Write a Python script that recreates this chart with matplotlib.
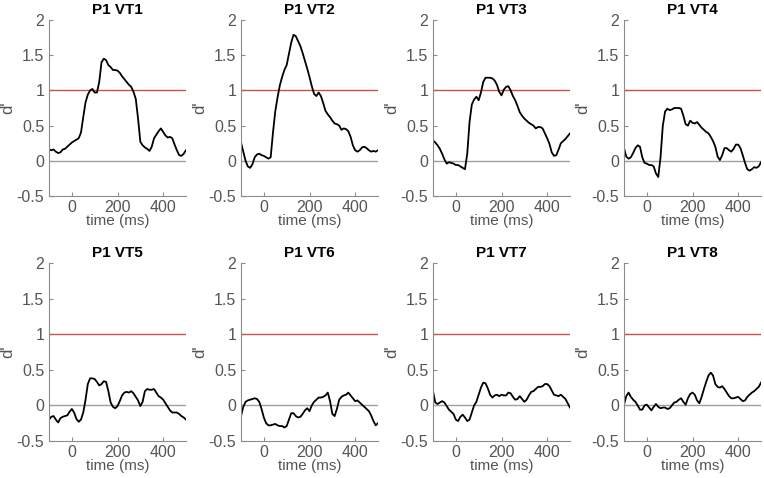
import numpy as np
import matplotlib
matplotlib.use('Agg')
import matplotlib.pyplot as plt

matplotlib.rcParams['font.family'] = ['Liberation Sans', 'DejaVu Sans']
matplotlib.rcParams['font.size'] = 10

# time axis (ms), one value every 10 ms
t = list(range(-100, 510, 10))

titles = ['P1 VT1', 'P1 VT2', 'P1 VT3', 'P1 VT4',
          'P1 VT5', 'P1 VT6', 'P1 VT7', 'P1 VT8']

vt1 = [0.16, 0.15, 0.16, 0.13, 0.11, 0.12, 0.16, 0.17, 0.20, 0.23,
       0.26, 0.28, 0.30, 0.32, 0.40, 0.62, 0.83, 0.94, 1.00, 1.02,
       0.97, 0.97, 1.12, 1.40, 1.45, 1.43, 1.36, 1.33, 1.29, 1.29,
       1.28, 1.25, 1.20, 1.16, 1.12, 1.08, 1.05, 0.98, 0.88, 0.60,
       0.27, 0.22, 0.19, 0.17, 0.14, 0.20, 0.32, 0.37, 0.42, 0.46,
       0.41, 0.36, 0.33, 0.34, 0.32, 0.23, 0.15, 0.08, 0.07, 0.10, 0.15]
vt2 = [0.26, 0.13, 0.00, -0.08, -0.10, -0.05, 0.05, 0.09, 0.10, 0.08,
       0.07, 0.05, 0.03, 0.05, 0.40, 0.70, 0.90, 1.07, 1.19, 1.29,
       1.36, 1.52, 1.68, 1.79, 1.77, 1.70, 1.63, 1.53, 1.42, 1.31,
       1.19, 1.06, 0.95, 0.92, 0.97, 0.92, 0.82, 0.71, 0.66, 0.62,
       0.57, 0.53, 0.52, 0.50, 0.44, 0.46, 0.45, 0.42, 0.34, 0.22,
       0.15, 0.13, 0.15, 0.19, 0.20, 0.18, 0.15, 0.13, 0.14, 0.13, 0.15]
vt3 = [0.29, 0.26, 0.22, 0.17, 0.10, 0.02, -0.04, -0.02, -0.03, -0.04,
       -0.06, -0.06, -0.08, -0.10, -0.12, 0.10, 0.55, 0.80, 0.87, 0.91,
       0.86, 0.97, 1.12, 1.18, 1.18, 1.18, 1.17, 1.14, 1.08, 0.98,
       0.93, 1.01, 1.05, 1.06, 1.00, 0.92, 0.86, 0.78, 0.69, 0.64,
       0.60, 0.57, 0.54, 0.52, 0.50, 0.46, 0.48, 0.48, 0.46, 0.39,
       0.32, 0.24, 0.12, 0.07, 0.08, 0.16, 0.25, 0.28, 0.31, 0.35, 0.39]
vt4 = [0.18, 0.06, 0.03, 0.05, 0.11, 0.18, 0.22, 0.20, 0.05, -0.03,
       -0.04, -0.06, -0.06, -0.08, -0.18, -0.23, 0.05, 0.50, 0.70, 0.74,
       0.72, 0.73, 0.75, 0.75, 0.75, 0.74, 0.64, 0.52, 0.50, 0.57,
       0.54, 0.53, 0.55, 0.51, 0.47, 0.44, 0.41, 0.39, 0.34, 0.28,
       0.20, 0.06, 0.01, 0.08, 0.18, 0.18, 0.15, 0.13, 0.17, 0.23,
       0.23, 0.18, 0.08, -0.03, -0.12, -0.14, -0.12, -0.09, -0.10, -0.08, -0.02]
vt5 = [-0.20, -0.16, -0.15, -0.20, -0.24, -0.18, -0.16, -0.15, -0.14, -0.09,
       -0.05, -0.10, -0.19, -0.23, -0.20, -0.10, 0.08, 0.30, 0.38, 0.38,
       0.37, 0.33, 0.28, 0.30, 0.34, 0.33, 0.20, 0.04, -0.02, -0.04,
       -0.01, 0.06, 0.14, 0.18, 0.19, 0.18, 0.20, 0.17, 0.12, 0.07,
       -0.01, 0.05, 0.20, 0.23, 0.22, 0.22, 0.23, 0.18, 0.13, 0.11,
       0.08, 0.03, -0.02, -0.07, -0.10, -0.10, -0.10, -0.12, -0.15, -0.17, -0.20]
vt6 = [-0.15, -0.02, 0.05, 0.07, 0.08, 0.09, 0.10, 0.09, 0.05, -0.05,
       -0.17, -0.25, -0.28, -0.28, -0.27, -0.26, -0.28, -0.29, -0.29, -0.31,
       -0.29, -0.20, -0.11, -0.11, -0.15, -0.17, -0.16, -0.12, -0.07, -0.04,
       -0.08, 0.00, 0.05, 0.08, 0.11, 0.11, 0.12, 0.14, 0.18, 0.06,
       -0.12, -0.15, -0.05, 0.08, 0.12, 0.14, 0.15, 0.18, 0.14, 0.10,
       0.06, 0.07, 0.04, 0.01, -0.02, -0.05, -0.08, -0.14, -0.22, -0.28, -0.25]
vt7 = [0.20, 0.04, 0.02, 0.04, 0.06, 0.04, -0.01, -0.06, -0.09, -0.12,
       -0.20, -0.22, -0.16, -0.13, -0.17, -0.22, -0.20, -0.10, 0.00, 0.05,
       0.15, 0.25, 0.32, 0.31, 0.24, 0.15, 0.11, 0.14, 0.15, 0.13,
       0.15, 0.14, 0.14, 0.18, 0.17, 0.12, 0.08, 0.09, 0.13, 0.09,
       0.05, 0.08, 0.14, 0.19, 0.20, 0.23, 0.26, 0.26, 0.27, 0.30,
       0.30, 0.27, 0.21, 0.15, 0.14, 0.13, 0.15, 0.12, 0.09, 0.03, -0.03]
vt8 = [0.01, 0.13, 0.18, 0.12, 0.08, 0.05, 0.00, -0.06, -0.06, 0.00,
       0.01, -0.03, -0.07, -0.02, 0.02, -0.02, -0.04, -0.03, -0.03, -0.05,
       -0.04, 0.00, 0.04, 0.05, 0.08, 0.10, 0.05, 0.01, 0.10, 0.16,
       0.18, 0.15, 0.07, 0.03, 0.12, 0.23, 0.33, 0.42, 0.46, 0.42,
       0.30, 0.26, 0.25, 0.27, 0.23, 0.18, 0.13, 0.10, 0.10, 0.11,
       0.12, 0.09, 0.06, 0.07, 0.12, 0.15, 0.18, 0.20, 0.23, 0.26, 0.32]

curves = [vt1, vt2, vt3, vt4, vt5, vt6, vt7, vt8]
threshold = 1

fig = plt.figure(figsize=(7.64, 4.78), dpi=100)

lefts = [49, 241, 433, 624]
tops = [20, 263]
heights = [176, 178]
axis_col = '#8c8c8c'
text_col = '#555555'

for i in range(8):
    row, col = i // 4, i % 4
    l = lefts[col] / 764
    b = 1 - (tops[row] + heights[row]) / 478
    ax = fig.add_axes([l, b, 137 / 764, heights[row] / 478])
    ax.axhline(threshold, color='#c8524b', lw=1)
    ax.axhline(0, color='#a0a0a0', lw=1)
    ax.plot(t, curves[i], color='black', lw=1.3)
    ax.set_xlim(-100, 500)
    ax.set_ylim(-0.5, 2)
    ax.set_xticks([0, 200, 400])
    ax.set_yticks([-0.5, 0, 0.5, 1, 1.5, 2])
    ax.set_yticklabels(['-0.5', '0', '0.5', '1', '1.5', '2'])
    for s in ['top', 'right']:
        ax.spines[s].set_visible(False)
    for s in ['left', 'bottom']:
        ax.spines[s].set_color(axis_col)
        ax.spines[s].set_linewidth(0.8)
    ax.tick_params(direction='in', length=3, width=0.8, colors=axis_col,
                   labelcolor=text_col, labelsize=11.5)
    ax.tick_params(axis='x', pad=3)
    ax.set_xlabel('time (ms)', color=text_col, fontsize=11, labelpad=-1)
    ax.set_ylabel("d'", color=text_col, fontsize=12, labelpad=1)
    ax.set_title(titles[i], fontweight='bold', fontsize=11, pad=4)

plt.savefig('out.png', dpi=100)
